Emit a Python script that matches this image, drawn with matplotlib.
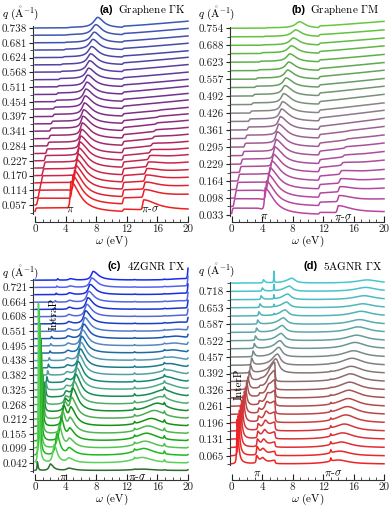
import numpy as np
import matplotlib
matplotlib.use("Agg")
import matplotlib.pyplot as plt
from matplotlib.colors import LinearSegmentedColormap, to_rgb
from matplotlib.ticker import FixedLocator, FixedFormatter, NullFormatter

plt.rcParams["font.family"] = ["cmr10", "DejaVu Serif"]
plt.rcParams["mathtext.fontset"] = "cm"
plt.rcParams["axes.unicode_minus"] = False

# ---------------- data ----------------
OMEGA_TICKS = [0, 4, 8, 12, 16, 20]

# (a) Graphene Gamma-K
A_Q = [0.028, 0.057, 0.085, 0.114, 0.142, 0.170, 0.199, 0.227, 0.255, 0.284, 0.312, 0.341, 0.369,
       0.397, 0.426, 0.454, 0.482, 0.511, 0.539, 0.568, 0.596, 0.624, 0.653, 0.681, 0.710, 0.738]
A_TICKS = [0.057, 0.114, 0.170, 0.227, 0.284, 0.341, 0.397, 0.454, 0.511, 0.568, 0.624, 0.681, 0.738]
A_PI_POS = [4.7, 4.95, 5.17, 5.35, 5.5, 5.65, 5.78, 5.9, 6.0, 6.1, 6.2, 6.29, 6.38,
            6.47, 6.57, 6.67, 6.78, 6.9, 7.02, 7.15, 7.28, 7.42, 7.58, 7.75, 7.95, 8.2]
A_PI_AMP = [4.0, 3.7, 3.4, 3.1, 2.9, 2.7, 2.5, 2.35, 2.2, 2.1, 2.0, 1.9, 1.8,
            1.75, 1.7, 1.65, 1.6, 1.55, 1.5, 1.5, 1.45, 1.45, 1.4, 1.4, 1.4, 1.4]
A_PLAT = [0.6, 0.9, 1.0, 1.0, 0.95, 0.9, 0.8, 0.7, 0.6, 0.5, 0.45, 0.4, 0.35,
          0.3, 0.25, 0.2, 0.2, 0.15, 0.15, 0.1, 0.1, 0.1, 0.1, 0.05, 0.05, 0.05]
A_ONSET = [0.05, 0.3, 0.5, 0.7, 0.9, 1.0, 1.2, 1.3, 1.5, 1.7, 1.9, 2.0, 2.2,
           2.4, 2.5, 2.7, 2.9, 3.0, 3.2, 3.4, 3.5, 3.7, 3.9, 4.0, 4.2, 4.4]
A_STEP = [0.3, 0.8, 0.9, 0.9, 0.85, 0.8, 0.7, 0.6, 0.55, 0.5, 0.45, 0.4, 0.35,
          0.3, 0.3, 0.25, 0.25, 0.2, 0.2, 0.2, 0.2, 0.15, 0.15, 0.15, 0.15, 0.15]
A_PS_POS = [14.2, 14.3, 14.4, 14.5, 14.6, 14.8, 15.0, 15.2, 15.4, 15.6, 15.8, 16.0, 16.2,
            16.4, 16.6, 16.8, 17.0, 17.2, 17.4, 17.6, 17.8, 18.0, 18.2, 18.4, 18.6, 18.8]
A_PS_AMP = [1.3, 1.0, 0.9, 0.8, 0.7, 0.6, 0.5, 0.4, 0.3, 0.25, 0.2, 0.15, 0.1,
            0.05, 0, 0, 0, 0, 0, 0, 0, 0, 0, 0, 0, 0]
A_RAMP = [0.0, 0.5, 0.6, 0.7, 0.8, 0.9, 1.0, 1.0, 1.0, 1.0, 1.0, 1.0, 0.95,
          0.9, 0.9, 0.85, 0.85, 0.8, 0.8, 0.8, 0.8, 0.75, 0.75, 0.75, 0.75, 0.75]

# (b) Graphene Gamma-M
B_Q = [0.033, 0.066, 0.098, 0.131, 0.164, 0.197, 0.229, 0.262, 0.295, 0.328, 0.361, 0.394,
       0.426, 0.459, 0.492, 0.525, 0.557, 0.590, 0.623, 0.656, 0.688, 0.721, 0.754]
B_TICKS = [0.033, 0.098, 0.164, 0.229, 0.295, 0.361, 0.426, 0.492, 0.557, 0.623, 0.688, 0.754]
B_PI_POS = [4.4, 4.6, 4.85, 5.05, 5.3, 5.5, 5.7, 5.85, 6.0, 6.2, 6.4, 6.55,
            6.7, 6.85, 7.0, 7.15, 7.35, 7.5, 7.65, 7.85, 8.1, 8.4, 8.9]
B_PI_AMP = [3.0, 2.8, 2.6, 2.4, 2.2, 2.0, 1.9, 1.8, 1.7, 1.6, 1.5, 1.4,
            1.3, 1.25, 1.2, 1.1, 1.05, 1.0, 0.95, 0.9, 0.85, 0.8, 0.75]
B_PLAT = [0.8, 0.9, 0.9, 0.85, 0.8, 0.7, 0.6, 0.5, 0.45, 0.4, 0.35, 0.3,
          0.25, 0.2, 0.2, 0.15, 0.15, 0.1, 0.1, 0.1, 0.05, 0.05, 0.05]
B_ONSET = [0.05, 0.3, 0.5, 0.7, 0.9, 1.1, 1.3, 1.5, 1.7, 1.9, 2.1, 2.3,
           2.5, 2.7, 2.9, 3.1, 3.3, 3.5, 3.7, 3.9, 4.1, 4.3, 4.5]
B_STEP = [0.2, 0.4, 0.5, 0.5, 0.5, 0.5, 0.45, 0.45, 0.4, 0.4, 0.35, 0.35,
          0.3, 0.3, 0.3, 0.25, 0.25, 0.2, 0.2, 0.2, 0.2, 0.2, 0.2]
B_PS_POS = [14.0, 14.1, 14.2, 14.3, 14.4, 14.6, 14.8, 15.0, 15.2, 15.4, 15.6, 15.8,
            16.0, 16.2, 16.4, 16.6, 16.8, 17.0, 17.2, 17.4, 17.6, 17.8, 18.0]
B_PS_AMP = [0.8, 0.7, 0.6, 0.5, 0.4, 0.3, 0.2, 0.15, 0.1, 0.05, 0, 0,
            0, 0, 0, 0, 0, 0, 0, 0, 0, 0, 0]
B_RAMP = [0.1, 0.4, 0.6, 0.7, 0.8, 0.9, 1.0, 1.0, 1.0, 1.0, 1.0, 0.95,
          0.9, 0.9, 0.85, 0.8, 0.8, 0.75, 0.7, 0.7, 0.65, 0.6, 0.6]

# (c) 4ZGNR Gamma-X
C_Q = [0.014, 0.042, 0.071, 0.099, 0.127, 0.155, 0.184, 0.212, 0.240, 0.268, 0.297, 0.325, 0.353, 0.382,
       0.410, 0.438, 0.467, 0.495, 0.523, 0.551, 0.580, 0.608, 0.636, 0.664, 0.693, 0.721, 0.749]
C_TICKS = [0.042, 0.099, 0.155, 0.212, 0.268, 0.325, 0.382, 0.438, 0.495, 0.551, 0.608, 0.664, 0.721]
C_IP_POS = [0.3, 0.45, 0.55, 0.65, 0.75, 0.85, 0.95, 1.05, 1.15, 1.25, 1.35, 1.45, 1.55, 1.65,
            1.75, 1.85, 1.95, 2.05, 2.15, 2.25, 2.35, 2.45, 2.55, 2.65, 2.75, 2.85, 2.95]
C_IP_AMP = [1.2, 22, 20, 17, 14, 11, 8, 6, 4, 2.5, 1.5, 1.0, 0.8, 0.6,
            0.5, 0.4, 0.3, 0.3, 0.3, 0.3, 0.25, 0.25, 0.2, 0.2, 0.2, 0.2, 0.2]
C_P1_POS = [2.0, 2.5, 2.85, 3.15, 3.4, 3.6, 3.75, 3.85, 3.95, 4.0, 4.05, 4.1, 4.1, 4.15,
            4.2, 4.2, 4.25, 4.3, 4.3, 4.35, 4.4, 4.4, 4.45, 4.5, 4.5, 4.55, 4.6]
C_P1_AMP = [0.9, 2.5, 3.0, 3.2, 3.2, 3.0, 2.7, 2.3, 1.6, 1.0, 0.7, 0.5, 0.45, 0.4,
            0.35, 0.35, 0.35, 0.35, 0.35, 0.35, 0.3, 0.3, 0.3, 0.25, 0.25, 0.2, 0.2]
C_P2_POS = [4.4, 4.4, 4.45, 4.5, 4.55, 4.6, 4.7, 4.8, 4.95, 5.1, 5.3, 5.45, 5.6, 5.75,
            5.9, 6.0, 6.1, 6.2, 6.35, 6.5, 6.6, 6.75, 6.9, 7.0, 7.2, 7.4, 7.6]
C_P2_AMP = [0.3, 0.6, 0.9, 1.1, 1.4, 1.8, 2.2, 2.6, 3.0, 3.1, 3.1, 3.0, 2.9, 2.8,
            2.6, 2.5, 2.3, 2.2, 2.0, 1.9, 1.8, 1.7, 1.6, 1.5, 1.4, 1.3, 1.2]
C_PS_POS = [14.0, 14.0, 14.2, 14.4, 14.6, 14.8, 15.2, 15.6, 16.0, 16.4, 16.8, 17.0, 17.2, 17.4,
            17.6, 17.8, 18.0, 18.2, 18.4, 18.6, 19.0, 19.0, 19.0, 19.0, 19.0, 19.0, 19.0]
C_PS_AMP = [0.2, 0.8, 1.0, 1.0, 1.1, 1.1, 1.1, 1.2, 1.2, 1.1, 1.0, 0.9, 0.8, 0.7,
            0.6, 0.5, 0.45, 0.4, 0.35, 0.3, 0.25, 0.2, 0.2, 0.2, 0.2, 0.2, 0.2]
C_END_AMP = [0.1, 0.1, 0.1, 0.1, 0.1, 0.1, 0.1, 0.1, 0.1, 0.1, 0.1, 0.1, 0.1, 0.15,
             0.15, 0.2, 0.2, 0.3, 0.4, 0.5, 0.7, 0.9, 1.1, 1.2, 1.3, 1.4, 1.5]

# (d) 5AGNR Gamma-X
D_Q = [0.033, 0.065, 0.098, 0.131, 0.163, 0.196, 0.229, 0.261, 0.294, 0.326, 0.359, 0.392,
       0.424, 0.457, 0.490, 0.522, 0.555, 0.587, 0.620, 0.653, 0.685, 0.718, 0.751]
D_TICKS = [0.065, 0.131, 0.196, 0.261, 0.326, 0.392, 0.457, 0.522, 0.587, 0.653, 0.718]
D_IP_POS = [0.7, 0.85, 1.0, 1.15, 1.3, 1.5, 1.65, 1.8, 1.95, 2.1, 2.3, 2.45,
            2.6, 2.8, 2.95, 3.1, 3.25, 3.4, 3.55, 3.7, 3.85, 4.0, 4.15]
D_IP_AMP = [5.5, 5.0, 4.6, 4.2, 3.8, 3.3, 2.8, 2.3, 1.9, 1.5, 1.2, 1.0,
            0.85, 0.7, 0.6, 0.55, 0.5, 0.5, 0.5, 0.45, 0.45, 0.4, 0.4]
D_P1_POS = [3.25, 3.3, 3.35, 3.4, 3.45, 3.5, 3.55, 3.6, 3.65, 3.7, 3.75, 3.8,
            3.85, 3.9, 3.95, 4.0, 4.05, 4.1, 4.15, 4.2, 4.25, 4.3, 4.35]
D_P1_AMP = [0.9, 1.0, 0.9, 0.8, 0.7, 0.6, 0.5, 0.4, 0.3, 0.2, 0.1, 0,
            0, 0, 0, 0, 0, 0, 0, 0, 0, 0, 0]
D_P2_POS = [4.05, 4.1, 4.2, 4.3, 4.4, 4.5, 4.6, 4.7, 4.8, 4.9, 5.0, 5.1,
            5.2, 5.3, 5.4, 5.5, 5.6, 5.7, 5.8, 5.9, 6.0, 6.1, 6.2]
D_P2_AMP = [0.6, 0.7, 0.8, 0.9, 1.0, 1.0, 1.0, 0.9, 0.7, 0.5, 0.3, 0,
            0, 0, 0, 0, 0, 0, 0, 0, 0, 0, 0]
D_PI_POS = [5.65, 5.65, 5.65, 5.65, 5.65, 5.65, 5.65, 5.65, 5.65, 5.65, 5.65, 5.8,
            6.0, 6.2, 6.35, 6.5, 6.65, 6.8, 7.0, 7.2, 7.35, 7.55, 7.9]
D_PI_AMP = [0.4, 0.5, 0.6, 0.8, 1.0, 1.2, 1.5, 1.8, 2.1, 2.3, 2.3, 1.8,
            1.4, 1.2, 1.0, 0.9, 0.85, 0.8, 0.75, 0.7, 0.7, 0.65, 0.6]
D_SP_AMP = [0, 0, 0, 0, 0, 0, 0, 0, 0, 0, 0, 0,
            0, 0, 0, 0, 0, 0, 0.15, 0.3, 0.5, 0.8, 1.4]
D_PS_POS = [14.0, 14.2, 14.4, 14.6, 14.8, 15.0, 15.2, 15.3, 15.4, 15.5, 15.6, 15.7,
            15.8, 16.0, 16.2, 16.4, 16.6, 16.8, 17.0, 17.2, 17.4, 17.6, 17.8]
D_PS_AMP = [0.5, 0.6, 0.7, 0.8, 0.9, 1.0, 1.0, 1.0, 1.0, 1.0, 1.0, 0.9,
            0.9, 0.8, 0.8, 0.7, 0.7, 0.6, 0.6, 0.5, 0.5, 0.5, 0.4]
D_S13_AMP = [0.4, 0.4, 0.35, 0.3, 0.3, 0.25, 0.2, 0.2, 0.15, 0.1, 0.1, 0.1,
             0.05, 0.05, 0, 0, 0, 0, 0, 0, 0, 0, 0]

# ---------------- model helpers ----------------
w = np.linspace(0, 20, 4001)


def sig(x, c, s):
    return 1.0 / (1.0 + np.exp(-(x - c) / s))


def alor(c, h, wl, wr):
    d = w - c
    g = np.where(d < 0, wl, wr)
    return h / (1.0 + (d / g) ** 2)


def graphene(i, n, pos, amp, plat, onset, step, ps_pos, ps_amp, ramp):
    f = i / (n - 1)
    s = plat[i] * sig(w, onset[i], 0.04) * sig(-w, -(pos[i] - 0.3), 0.25)
    s = s + alor(pos[i], amp[i], 0.12 + 0.5 * f, 1.4 - 0.5 * f)
    s = s + step[i] * sig(w, 11.5, 0.04)
    s = s + alor(ps_pos[i], ps_amp[i], 0.15, 2.0) * sig(w, ps_pos[i] - 0.25, 0.05)
    s = s + ramp[i] * np.clip((w - 11.5) / 8.5, 0, 1)
    return s


def zgnr(i):
    s = alor(C_IP_POS[i], C_IP_AMP[i], 0.04, 0.1)
    s = s + alor(C_P1_POS[i], C_P1_AMP[i], 0.2, 0.45)
    s = s + alor(C_P2_POS[i], C_P2_AMP[i], 0.3, 0.8)
    s = s + alor(C_PS_POS[i], C_PS_AMP[i], 1.6, 1.6)
    s = s + alor(13.0, 0.3 * min(C_PS_AMP[i], 1.0), 0.05, 0.1)
    s = s + alor(16.9, 0.4 * min(C_PS_AMP[i], 1.0), 0.05, 0.1)
    s = s + alor(20.0, C_END_AMP[i], 0.06, 0.06)
    return s


def agnr(i):
    s = alor(D_IP_POS[i], D_IP_AMP[i], 0.05, 0.2)
    s = s + alor(D_P1_POS[i], D_P1_AMP[i], 0.05, 0.3)
    s = s + alor(D_P2_POS[i], D_P2_AMP[i], 0.3, 0.4)
    wr = 0.06 if i < 11 else 0.5
    s = s + alor(D_PI_POS[i], D_PI_AMP[i], 0.8, wr)
    s = s + alor(5.55, D_SP_AMP[i], 0.03, 0.03)
    s = s + alor(D_PS_POS[i], D_PS_AMP[i], 1.6, 1.6)
    s = s + alor(13.0, D_S13_AMP[i], 0.05, 0.08)
    return s


def cmap(nodes):
    return LinearSegmentedColormap.from_list("c", nodes)


CM_A = cmap([(0, "#ee2020"), (0.28, "#bb2858"), (0.44, "#8c2a7c"), (0.68, "#6a3496"),
             (0.84, "#4a46a8"), (1, "#3a58b4")])
CM_B = cmap([(0, "#b8459f"), (0.3, "#a8509a"), (0.45, "#946a8e"), (0.55, "#868686"),
             (0.67, "#6a9a6a"), (0.8, "#5aae48"), (1, "#66c83e")])
CM_C = cmap([(0, "#22cc22"), (0.25, "#119011"), (0.45, "#178a70"), (0.6, "#1a70a0"),
             (0.8, "#1838c8"), (1, "#1a2aee")])
CM_D = cmap([(0, "#ee2424"), (0.2, "#d0383c"), (0.35, "#a85050"), (0.45, "#8e6a6a"),
             (0.55, "#808080"), (0.65, "#6a9898"), (0.8, "#52b0b4"), (1, "#44c8d0")])

# ---------------- figure ----------------
W, H = 390, 509
fig = plt.figure(figsize=(W / 100, H / 100), dpi=100)
FS = 8


def make_axes(x0, x1, yb, yt, q_ref, y_ref, scale, qs, ticks):
    ax = fig.add_axes([x0 / W, 1 - yb / H, (x1 - x0) / W, (yb - yt) / H])
    ax.set_xlim(0, 20)
    ax.set_ylim(q_ref - (yb - y_ref) / scale, q_ref + (y_ref - yt) / scale)
    ax.patch.set_visible(False)
    for s in ("top", "right"):
        ax.spines[s].set_visible(False)
    ax.spines["left"].set_bounds(qs[0] - 0.004, qs[-1] + 0.006)
    ax.spines["left"].set_position(("outward", 1.5))
    for s in ("left", "bottom"):
        ax.spines[s].set_linewidth(0.8)
        ax.spines[s].set_color("#333333")
    ax.xaxis.set_major_locator(FixedLocator(OMEGA_TICKS))
    ax.xaxis.set_major_formatter(FixedFormatter([str(t) for t in OMEGA_TICKS]))
    ax.xaxis.set_minor_locator(FixedLocator(list(range(0, 21))))
    ax.yaxis.set_major_locator(FixedLocator(ticks))
    ax.yaxis.set_major_formatter(FixedFormatter(["%.3f" % t for t in ticks]))
    ax.yaxis.set_minor_locator(FixedLocator([q for q in qs if q not in ticks]))
    ax.yaxis.set_minor_formatter(NullFormatter())
    ax.tick_params(axis="x", which="major", direction="in", length=4, width=0.8,
                   labelsize=FS, pad=2.0, colors="#222222")
    ax.tick_params(axis="x", which="minor", direction="in", length=2, width=0.6, colors="#333333")
    ax.tick_params(axis="y", which="major", direction="out", length=3, width=0.8,
                   labelsize=FS, pad=1.0, colors="#222222")
    ax.tick_params(axis="y", which="minor", direction="out", length=2, width=0.6, colors="#333333")
    ax.set_xlabel(r"$\omega$ (eV)", fontsize=FS, labelpad=-0.5)
    return ax


def draw(ax, qs, spectra, colors):
    n = len(qs)
    dq = qs[1] - qs[0]
    for i in range(n):
        ax.plot(w, qs[i] + dq * spectra[i], color=colors[i], lw=1.1,
                zorder=10 + n - i, clip_on=False, solid_joinstyle="round")


def ptext(x, y, s, **kw):
    fig.text(x / W, 1 - y / H, s, **kw)


# (a)
ax_a = make_axes(35, 188, 222, 8, 0.057, 205, 259.9, A_Q, A_TICKS)
nA = len(A_Q)
spec_a = [graphene(i, nA, A_PI_POS, A_PI_AMP, A_PLAT, A_ONSET, A_STEP, A_PS_POS, A_PS_AMP, A_RAMP)
          for i in range(nA)]
draw(ax_a, A_Q, spec_a, [CM_A(i / (nA - 1)) for i in range(nA)])

# (b)
ax_b = make_axes(231.7, 384, 222, 8, 0.033, 215, 259.0, B_Q, B_TICKS)
nB = len(B_Q)
spec_b = [graphene(i, nB, B_PI_POS, B_PI_AMP, B_PLAT, B_ONSET, B_STEP, B_PS_POS, B_PS_AMP, B_RAMP)
          for i in range(nB)]
draw(ax_b, B_Q, spec_b, [CM_B(i / (nB - 1)) for i in range(nB)])

# (c)
ax_c = make_axes(35, 188, 480, 262, 0.042, 463.3, 259.0, C_Q, C_TICKS)
nC = len(C_Q)
spec_c = [zgnr(i) for i in range(nC)]
cols_c = []
for i in range(nC):
    c = np.array(to_rgb(CM_C(i / (nC - 1))))
    if i % 2 == 1:
        c = c + (1 - c) * 0.25
    cols_c.append(tuple(c))
cols_c[0] = "#2f6a2f"
draw(ax_c, C_Q, spec_c, cols_c)

# (d)
ax_d = make_axes(231.7, 384, 480, 262, 0.065, 456, 252.0, D_Q, D_TICKS)
nD = len(D_Q)
spec_d = [agnr(i) for i in range(nD)]
draw(ax_d, D_Q, spec_d, [CM_D(i / (nD - 1)) for i in range(nD)])

# ---------------- texts ----------------
bold = dict(family="Liberation Sans", weight="bold", fontsize=8, va="center", ha="left")
ser = dict(fontsize=8, va="center", ha="left")

ptext(99, 10, "(a)", **bold)
ptext(118, 10, r"Graphene $\Gamma$K", **ser)
ptext(291, 10, "(b)", **bold)
ptext(310, 10, r"Graphene $\Gamma$M", **ser)
ptext(107, 266, "(c)", **bold)
ptext(127, 266, r"4ZGNR $\Gamma$X", **ser)
ptext(304, 266, "(d)", **bold)
ptext(323, 266, r"5AGNR $\Gamma$X", **ser)

for (x, y) in [(2, 13), (198, 13), (2, 272), (198, 270)]:
    ptext(x, y, r"$q\ (\mathring{\mathrm{A}}^{-1})$", **ser)

lab = dict(fontsize=8, va="center", ha="center")
ptext(70, 209, r"$\pi$", **lab)
ptext(150, 209, r"$\pi$-$\sigma$", **lab)
ptext(264, 216, r"$\pi$", **lab)
ptext(343, 217, r"$\pi$-$\sigma$", **lab)
ptext(63, 477, r"$\pi$", **lab)
ptext(137, 477, r"$\pi$-$\sigma$", **lab)
ptext(257, 473, r"$\pi$", **lab)
ptext(333, 473, r"$\pi$-$\sigma$", **lab)
ptext(54, 314, "IntraP", rotation=90, **lab)
ptext(239, 384, "InterP", rotation=90, **lab)

fig.savefig("out.png", dpi=100)
